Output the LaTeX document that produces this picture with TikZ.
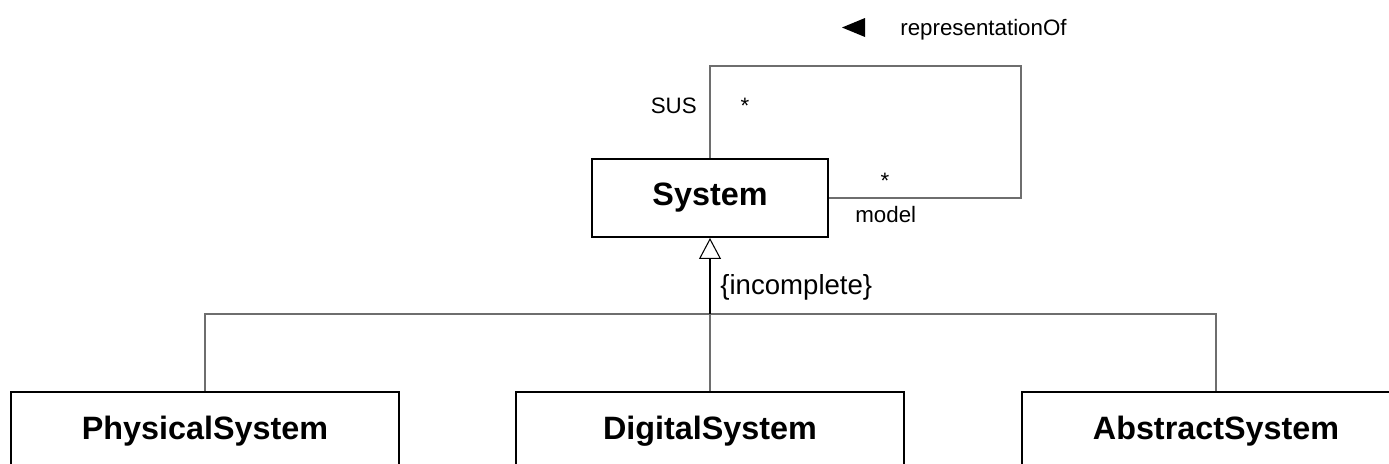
\documentclass[tikz,border=0pt]{standalone}
\usepackage{fontspec}
\setmainfont{Liberation Sans}
\usetikzlibrary{arrows.meta}
\definecolor{umlline}{HTML}{6E6E6E}

\begin{document}
\begin{tikzpicture}[
            cls/.style={rectangle, draw=black, line width=1.1pt, minimum height=1.56cm, font=\fontsize{18.4}{22}\selectfont\bfseries},
            lbl/.style={inner sep=0pt, font=\fontsize{12.7}{15}\selectfont},
            assoc/.style={draw=umlline, line width=0.6pt}
        ]
            \useasboundingbox (0,0) rectangle (27.78,-9.26);

            % System
            \node[cls, minimum width=4.72cm] (sys) at (14.2,-3.96) {System};

            % self association
            \coordinate (loopc) at (20.42,-1.32);
            \draw[assoc] (sys.north) |- (loopc) |- (sys.east);

            \node[lbl, anchor=base east] (sus) at (13.94,-2.26) {SUS};
            \node[lbl, anchor=base] (m1) at (14.9,-2.26) {*};
            \node[lbl, anchor=base] (m2) at (17.7,-3.76) {*};
            \node[lbl, anchor=base west] (model) at (17.1,-4.44) {model};
            \node[lbl, anchor=base west] (repof) at (18.0,-0.70) {representationOf};
            \fill (17.3,-0.36) -- (17.3,-0.74) -- (16.84,-0.55) -- cycle;

            % subclasses
            \node[cls, minimum width=7.76cm] (phys) at (4.1,-8.62) {PhysicalSystem};
            \node[cls, minimum width=7.76cm] (digi) at (14.2,-8.62) {DigitalSystem};
            \node[cls, minimum width=7.76cm] (abst) at (24.32,-8.62) {AbstractSystem};

            % generalization
            \coordinate (gj) at (14.2,-6.28);
            \draw[assoc] (phys.north) |- (gj) -| (abst.north);
            \draw[assoc] (gj) -- (digi.north);
            \draw[line width=1.1pt, -{Triangle[open, length=0.42cm, width=0.44cm, line width=0.6pt]}] (gj) -- (sys.south);

            \node[lbl, anchor=base west, font=\fontsize{15.7}{18}\selectfont] (incomp) at (14.4,-5.88) {\{incomplete\}};
        \end{tikzpicture}
\end{document}
